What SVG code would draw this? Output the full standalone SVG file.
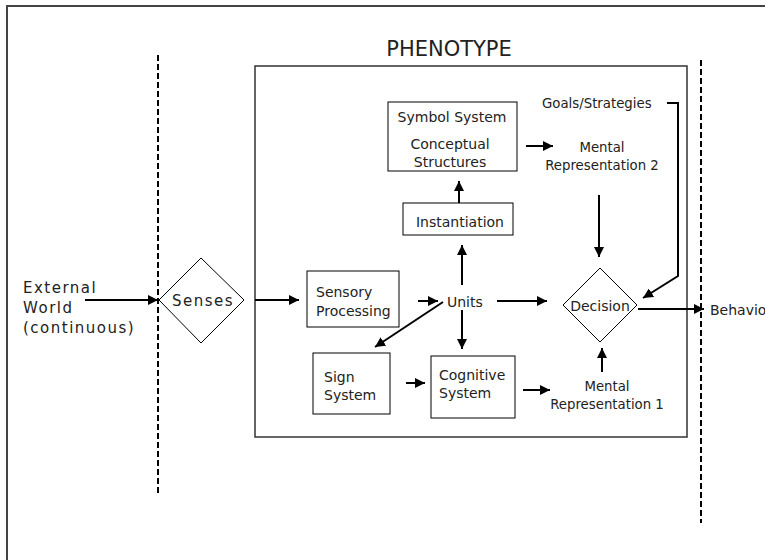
<svg xmlns="http://www.w3.org/2000/svg" width="765" height="560" viewBox="0 0 765 560">
<defs>
<marker id="ah" markerUnits="userSpaceOnUse" markerWidth="10" markerHeight="10" viewBox="0 0 10 10" refX="10" refY="5" orient="auto">
<path d="M0,0 L10,5 L0,10 z" fill="#000"/>
</marker>
<style>
.t{font-family:"DejaVu Sans",Verdana,sans-serif;font-size:14px;fill:#222}
.big{font-size:15px;letter-spacing:1.5px}
.box{fill:#fff;stroke:#000;stroke-width:1}
.dash{stroke:#000;stroke-width:2;stroke-dasharray:6 3;fill:none}
.c{stroke:#000;stroke-width:2;fill:none;marker-end:url(#ah)}
.m{text-anchor:middle}
</style>
</defs>
<rect width="765" height="560" fill="#fff"/>
<path d="M7,560 L7,6 L765,6" fill="none" stroke="#444" stroke-width="2"/>
<line class="dash" x1="158" y1="55" x2="158" y2="494"/>
<line class="dash" x1="701" y1="60" x2="701" y2="523"/>
<g id="phenotype">
<rect x="255" y="66" width="432" height="371" fill="none" stroke="#333" stroke-width="1.5"/>
<text class="t m" x="449" y="56" style="font-size:21px">PHENOTYPE</text>
</g>
<g id="external">
<text class="t big" x="23" y="293">External</text>
<text class="t big" x="23" y="313">World</text>
<text class="t big" x="23" y="333">(continuous)</text>
</g>
<g id="senses">
<polygon class="box" points="201,258 244,300 201,343 159,300"/>
<text class="t big m" x="203" y="306">Senses</text>
</g>
<g id="sensory">
<rect class="box" x="307" y="271" width="92" height="56"/>
<text class="t" x="316" y="297">Sensory</text>
<text class="t" x="316" y="316">Processing</text>
</g>
<g id="units">
<text class="t" x="447" y="307">Units</text>
</g>
<g id="sign">
<rect class="box" x="313" y="353" width="77" height="61"/>
<text class="t" x="324" y="382">Sign</text>
<text class="t" x="324" y="400">System</text>
</g>
<g id="cognitive">
<rect class="box" x="431" y="356" width="84" height="62"/>
<text class="t" x="439" y="380">Cognitive</text>
<text class="t" x="439" y="398">System</text>
</g>
<g id="symbol">
<rect class="box" x="388" y="102" width="129" height="69"/>
<text class="t m" x="452" y="122">Symbol System</text>
<text class="t m" x="450" y="149">Conceptual</text>
<text class="t m" x="450" y="167">Structures</text>
</g>
<g id="instantiation">
<rect class="box" x="403" y="203" width="110" height="32"/>
<text class="t m" x="460" y="227">Instantiation</text>
</g>
<g id="goals">
<text class="t" x="542" y="108" style="font-size:13.3px">Goals/Strategies</text>
</g>
<g id="mr2">
<text class="t m" x="602" y="152" style="font-size:13.3px">Mental</text>
<text class="t m" x="602" y="170" style="font-size:13.3px">Representation 2</text>
</g>
<g id="decision">
<polygon class="box" points="600,268 637,305 600,342 563,305"/>
<text class="t m" x="600" y="311">Decision</text>
</g>
<g id="mr1">
<text class="t m" x="607" y="391" style="font-size:13.3px">Mental</text>
<text class="t m" x="607" y="409" style="font-size:13.3px">Representation 1</text>
</g>
<g id="behavior">
<text class="t" x="710" y="315">Behavior</text>
</g>
<g id="connectors">
<path class="c" d="M85,300 L158,300"/>
<path class="c" d="M255,300 L299,300"/>
<path class="c" d="M418,301 L438,301"/>
<path class="c" d="M462,285 L462,245"/>
<path class="c" d="M462,310 L462,349"/>
<path class="c" d="M443,302 L375,347"/>
<path class="c" d="M406,383 L425,383"/>
<path class="c" d="M523,390 L550,390"/>
<path class="c" d="M602,372 L602,348"/>
<path class="c" d="M497,301 L547,301"/>
<path class="c" d="M638,309 L704,309"/>
<path class="c" d="M599,195 L599,257"/>
<path class="c" d="M667,103 L678,103 L678,276 L643,298"/>
<path class="c" d="M526,146 L553,146"/>
<path class="c" d="M459,203 L459,181"/>
</g>
</svg>
